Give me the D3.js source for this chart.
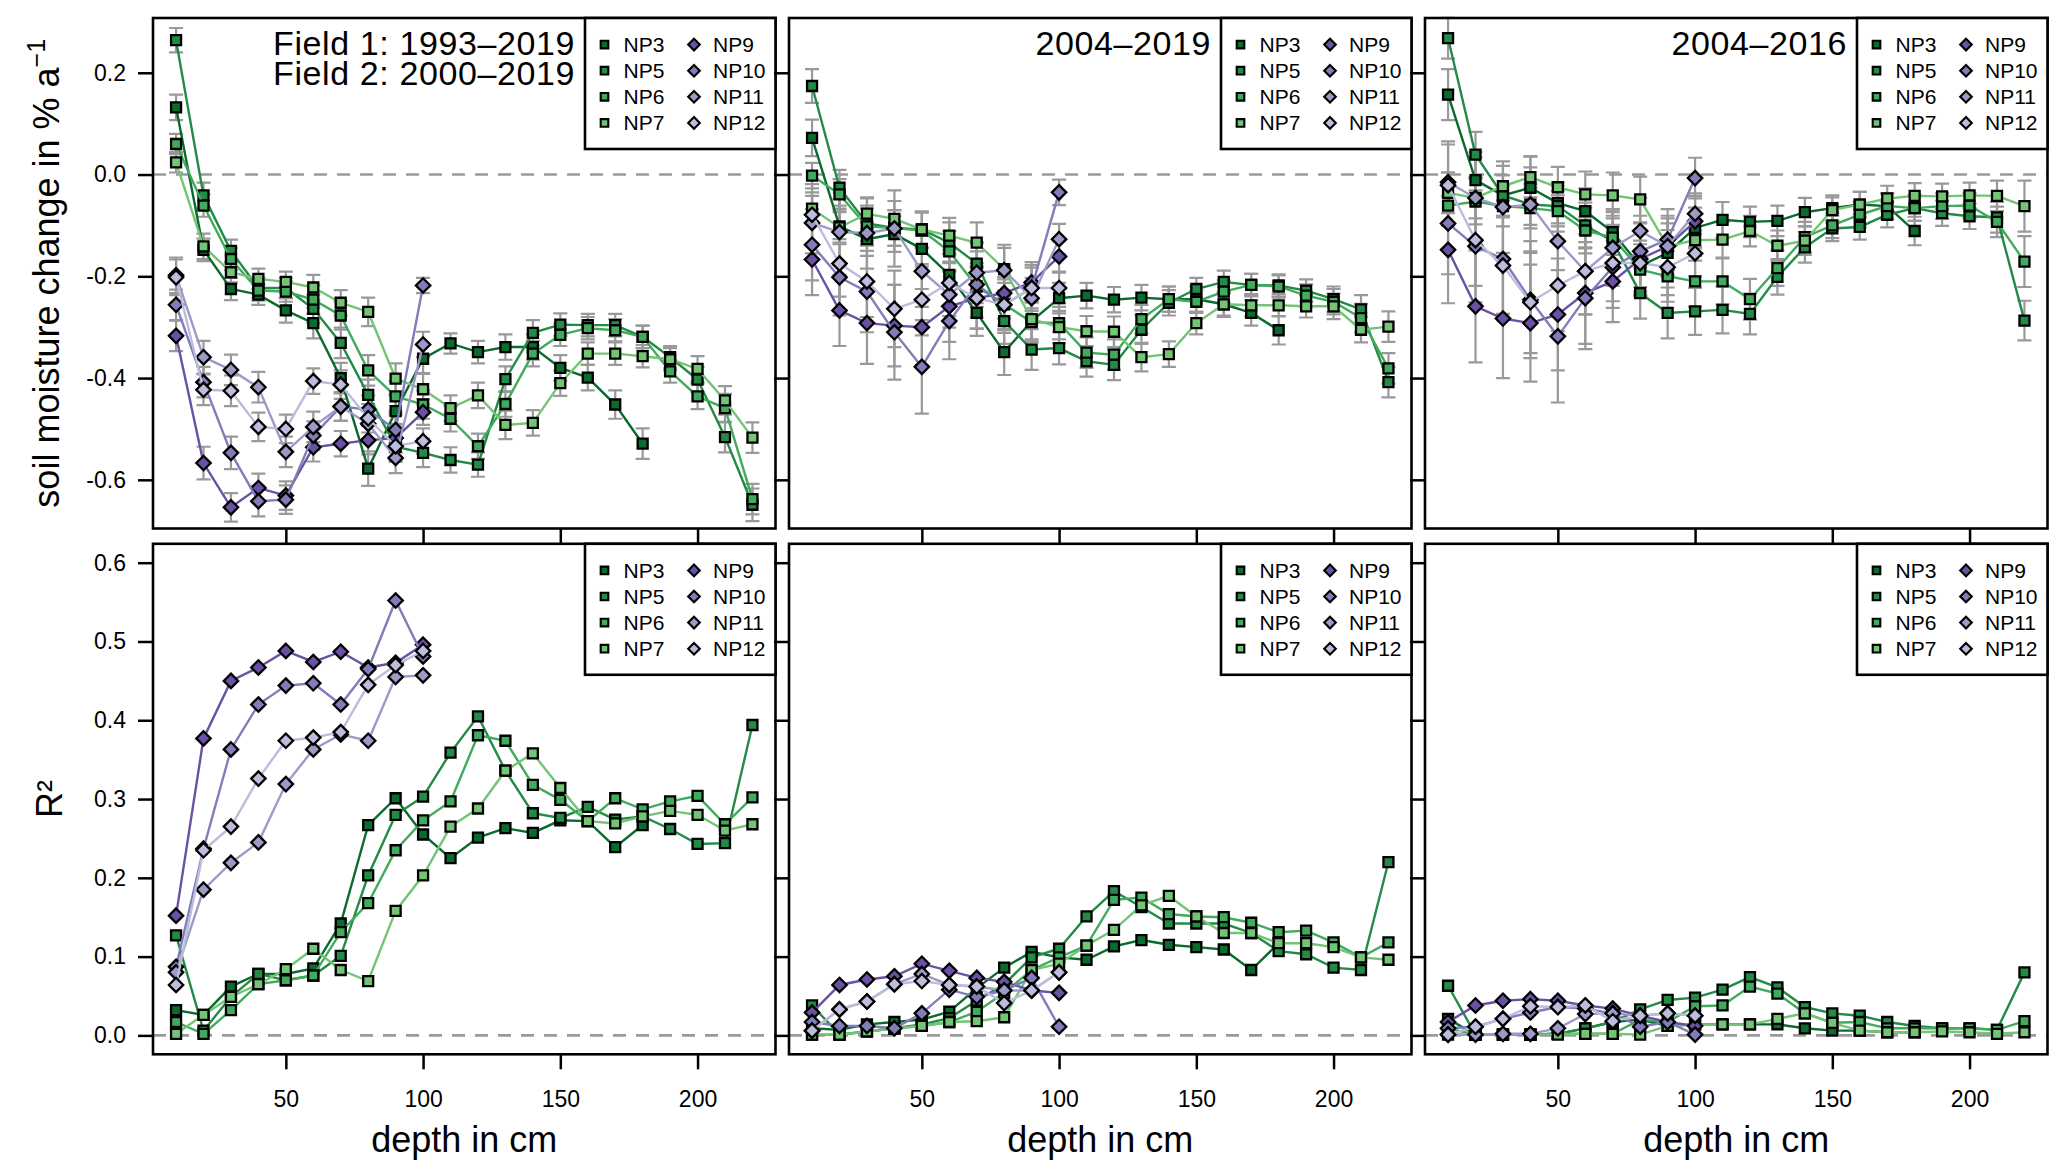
<!DOCTYPE html>
<html>
<head>
<meta charset="utf-8">
<script src="https://cdn.jsdelivr.net/npm/d3@7"></script>
<style>
  body { margin: 0; background: #fff; }
  svg { display: block; font-family: "Liberation Sans", Arial, Helvetica, sans-serif; }
</style>
</head>
<body>
<div id="chart"></div>
<script>
// Depths (cm) and profiles
const depths = [10, 20, 30, 40, 50, 60, 70, 80, 90, 100, 110, 120, 130, 140, 150, 160, 170, 180, 190, 200, 210, 220];
const series = ["NP3", "NP5", "NP6", "NP7", "NP9", "NP10", "NP11", "NP12"];
const seriesColors = ["#0b6a2e", "#238b45", "#41ab5d", "#74c476", "#6a51a3", "#807dba", "#9e9ac8", "#bcbddc"];
const seriesShape = ["square", "square", "square", "square", "diamond", "diamond", "diamond", "diamond"];

const periodTitles = [["Field 1: 1993\u20132019", "Field 2: 2000\u20132019"], ["2004\u20132019"], ["2004\u20132016"]];
const trendTicks = [-0.6, -0.4, -0.2, 0, 0.2];
const r2Ticks = [0, 0.1, 0.2, 0.3, 0.4, 0.5, 0.6];
const depthTicks = [50, 100, 150, 200];

// soil moisture trend, % per year (rows: NP3, NP5, NP6, NP7, NP9, NP10, NP11, NP12)
const trendLong = [
  [0.132, -0.148, -0.225, -0.236, -0.267, -0.292, -0.400, -0.578, -0.465, -0.362, -0.332, -0.349, -0.339, -0.339, -0.380, -0.399, -0.452, -0.529],
  [0.264, -0.041, -0.150, -0.223, -0.223, -0.264, -0.331, -0.433, -0.535, -0.547, -0.561, -0.570, -0.402, -0.311, -0.295, -0.296, -0.296, -0.319, -0.359, -0.403, -0.516, -0.649],
  [0.060, -0.061, -0.166, -0.228, -0.230, -0.246, -0.277, -0.385, -0.436, -0.452, -0.480, -0.534, -0.451, -0.352, -0.315, -0.302, -0.306, -0.319, -0.387, -0.436, -0.459, -0.638],
  [0.024, -0.141, -0.192, -0.205, -0.211, -0.222, -0.252, -0.270, -0.401, -0.422, -0.459, -0.434, -0.492, -0.488, -0.410, -0.352, -0.352, -0.357, -0.363, -0.382, -0.444, -0.517],
  [-0.317, -0.567, -0.654, -0.616, -0.631, -0.536, -0.529, -0.522, -0.518, -0.467],
  [-0.256, -0.408, -0.547, -0.642, -0.639, -0.513, -0.456, -0.462, -0.502, -0.218],
  [-0.198, -0.359, -0.384, -0.418, -0.545, -0.496, -0.456, -0.490, -0.557, -0.334],
  [-0.202, -0.423, -0.425, -0.496, -0.500, -0.406, -0.413, -0.479, -0.534, -0.524]
];
const trendLongErr = [
  [0.025, 0.022, 0.022, 0.020, 0.024, 0.030, 0.030, 0.034, 0.030, 0.028, 0.020, 0.022, 0.025, 0.025, 0.025, 0.025, 0.028, 0.030],
  [0.024, 0.025, 0.022, 0.020, 0.020, 0.028, 0.030, 0.030, 0.030, 0.028, 0.025, 0.024, 0.025, 0.025, 0.022, 0.022, 0.022, 0.022, 0.022, 0.025, 0.030, 0.032],
  [0.020, 0.022, 0.022, 0.020, 0.020, 0.028, 0.028, 0.030, 0.030, 0.028, 0.025, 0.025, 0.025, 0.025, 0.022, 0.022, 0.022, 0.022, 0.022, 0.025, 0.028, 0.030],
  [0.020, 0.025, 0.020, 0.020, 0.020, 0.025, 0.025, 0.028, 0.030, 0.030, 0.025, 0.025, 0.028, 0.025, 0.025, 0.022, 0.022, 0.022, 0.022, 0.025, 0.028, 0.030],
  [0.030, 0.032, 0.028, 0.028, 0.028, 0.028, 0.025, 0.028, 0.028, 0.025],
  [0.030, 0.030, 0.032, 0.030, 0.028, 0.028, 0.028, 0.028, 0.030, 0.015],
  [0.035, 0.032, 0.030, 0.030, 0.030, 0.030, 0.028, 0.030, 0.030, 0.025],
  [0.035, 0.030, 0.030, 0.028, 0.028, 0.025, 0.028, 0.028, 0.028, 0.025]
];

const trend0419 = [
  [0.072, -0.102, -0.127, -0.117, -0.146, -0.197, -0.272, -0.349, -0.288, -0.243, -0.238, -0.246, -0.242, -0.245, -0.245, -0.255, -0.272, -0.306],
  [0.174, -0.026, -0.096, -0.105, -0.108, -0.134, -0.175, -0.288, -0.344, -0.341, -0.367, -0.374, -0.305, -0.252, -0.225, -0.211, -0.217, -0.218, -0.228, -0.245, -0.265, -0.408],
  [-0.002, -0.039, -0.102, -0.105, -0.110, -0.151, -0.220, -0.255, -0.290, -0.292, -0.350, -0.354, -0.284, -0.245, -0.250, -0.230, -0.217, -0.220, -0.238, -0.250, -0.282, -0.381],
  [-0.067, -0.104, -0.077, -0.087, -0.108, -0.120, -0.134, -0.186, -0.284, -0.300, -0.308, -0.309, -0.359, -0.353, -0.292, -0.255, -0.257, -0.257, -0.259, -0.259, -0.305, -0.299],
  [-0.167, -0.267, -0.292, -0.297, -0.300, -0.259, -0.243, -0.233, -0.212, -0.161],
  [-0.138, -0.202, -0.230, -0.310, -0.378, -0.288, -0.216, -0.256, -0.223, -0.035],
  [-0.095, -0.113, -0.115, -0.106, -0.190, -0.236, -0.193, -0.188, -0.243, -0.127],
  [-0.079, -0.175, -0.210, -0.264, -0.246, -0.213, -0.243, -0.256, -0.223, -0.223]
];
const trend0419Err = [
  [0.036, 0.035, 0.033, 0.035, 0.035, 0.040, 0.045, 0.045, 0.040, 0.030, 0.025, 0.025, 0.025, 0.025, 0.025, 0.025, 0.025, 0.028],
  [0.033, 0.035, 0.035, 0.035, 0.035, 0.040, 0.040, 0.045, 0.040, 0.032, 0.030, 0.030, 0.028, 0.025, 0.022, 0.022, 0.022, 0.022, 0.022, 0.025, 0.028, 0.030],
  [0.025, 0.030, 0.035, 0.035, 0.035, 0.040, 0.040, 0.042, 0.040, 0.032, 0.030, 0.030, 0.028, 0.025, 0.022, 0.022, 0.022, 0.022, 0.022, 0.025, 0.028, 0.030],
  [0.025, 0.030, 0.030, 0.035, 0.035, 0.035, 0.040, 0.042, 0.040, 0.032, 0.030, 0.030, 0.028, 0.025, 0.022, 0.022, 0.022, 0.022, 0.022, 0.025, 0.025, 0.030],
  [0.070, 0.070, 0.080, 0.080, 0.075, 0.070, 0.060, 0.050, 0.040, 0.030],
  [0.070, 0.075, 0.080, 0.093, 0.092, 0.075, 0.065, 0.055, 0.045, 0.025],
  [0.060, 0.065, 0.070, 0.075, 0.070, 0.065, 0.060, 0.050, 0.040, 0.030],
  [0.060, 0.065, 0.070, 0.075, 0.070, 0.065, 0.060, 0.050, 0.040, 0.030]
];

const trend0416 = [
  [0.157, -0.011, -0.041, -0.026, -0.056, -0.072, -0.113, -0.180, -0.154, -0.105, -0.089, -0.093, -0.091, -0.074, -0.066, -0.059, -0.062, -0.111],
  [0.268, 0.039, -0.041, -0.059, -0.062, -0.100, -0.131, -0.233, -0.272, -0.269, -0.266, -0.274, -0.201, -0.143, -0.106, -0.103, -0.079, -0.066, -0.076, -0.082, -0.084, -0.287],
  [-0.061, -0.053, -0.062, -0.066, -0.072, -0.110, -0.124, -0.187, -0.200, -0.210, -0.210, -0.245, -0.184, -0.123, -0.100, -0.079, -0.062, -0.066, -0.062, -0.061, -0.093, -0.171],
  [-0.036, -0.046, -0.023, -0.005, -0.025, -0.039, -0.041, -0.049, -0.141, -0.129, -0.128, -0.111, -0.140, -0.130, -0.070, -0.059, -0.047, -0.042, -0.043, -0.041, -0.042, -0.062],
  [-0.148, -0.259, -0.283, -0.292, -0.275, -0.233, -0.210, -0.166, -0.141, -0.092],
  [-0.096, -0.141, -0.166, -0.246, -0.318, -0.243, -0.182, -0.151, -0.128, -0.007],
  [-0.015, -0.046, -0.064, -0.059, -0.131, -0.190, -0.144, -0.111, -0.141, -0.077],
  [-0.021, -0.129, -0.179, -0.251, -0.218, -0.190, -0.174, -0.174, -0.182, -0.155]
];
const trend0416Err = [
  [0.050, 0.045, 0.040, 0.040, 0.040, 0.045, 0.045, 0.050, 0.045, 0.040, 0.035, 0.030, 0.030, 0.028, 0.025, 0.025, 0.025, 0.028],
  [0.040, 0.045, 0.040, 0.040, 0.040, 0.045, 0.050, 0.050, 0.050, 0.046, 0.046, 0.040, 0.035, 0.030, 0.025, 0.025, 0.025, 0.025, 0.025, 0.025, 0.030, 0.039],
  [0.040, 0.045, 0.040, 0.040, 0.040, 0.045, 0.050, 0.050, 0.050, 0.050, 0.045, 0.040, 0.035, 0.030, 0.025, 0.025, 0.025, 0.025, 0.025, 0.025, 0.030, 0.050],
  [0.040, 0.040, 0.040, 0.040, 0.040, 0.045, 0.045, 0.045, 0.045, 0.040, 0.035, 0.030, 0.030, 0.028, 0.025, 0.025, 0.025, 0.025, 0.025, 0.025, 0.030, 0.050],
  [0.105, 0.110, 0.117, 0.115, 0.110, 0.100, 0.080, 0.070, 0.060, 0.050],
  [0.100, 0.110, 0.115, 0.115, 0.130, 0.100, 0.080, 0.070, 0.060, 0.040],
  [0.080, 0.090, 0.090, 0.095, 0.090, 0.085, 0.075, 0.065, 0.055, 0.040],
  [0.080, 0.090, 0.095, 0.100, 0.090, 0.085, 0.075, 0.065, 0.055, 0.045]
];

// coefficient of determination of the trends
const r2Long = [
  [0.032, 0.026, 0.062, 0.078, 0.078, 0.085, 0.142, 0.267, 0.301, 0.255, 0.225, 0.251, 0.263, 0.257, 0.273, 0.272, 0.239, 0.267],
  [0.127, 0.006, 0.049, 0.078, 0.070, 0.076, 0.101, 0.203, 0.280, 0.303, 0.359, 0.405, 0.336, 0.282, 0.276, 0.290, 0.274, 0.278, 0.262, 0.243, 0.244, 0.394],
  [0.017, 0.002, 0.032, 0.065, 0.070, 0.076, 0.131, 0.168, 0.235, 0.273, 0.297, 0.381, 0.374, 0.318, 0.299, 0.272, 0.301, 0.287, 0.297, 0.304, 0.268, 0.302],
  [0.002, 0.026, 0.049, 0.065, 0.084, 0.110, 0.083, 0.069, 0.158, 0.203, 0.265, 0.288, 0.336, 0.358, 0.314, 0.272, 0.269, 0.278, 0.285, 0.280, 0.260, 0.268],
  [0.152, 0.377, 0.450, 0.467, 0.488, 0.474, 0.487, 0.467, 0.473, 0.496],
  [0.087, 0.237, 0.363, 0.420, 0.444, 0.447, 0.420, 0.465, 0.552, 0.481],
  [0.080, 0.185, 0.219, 0.245, 0.319, 0.363, 0.382, 0.374, 0.455, 0.457],
  [0.064, 0.235, 0.265, 0.326, 0.374, 0.378, 0.385, 0.445, 0.470, 0.488]
];
const r20419 = [
  [0.009, 0.007, 0.014, 0.017, 0.020, 0.030, 0.060, 0.086, 0.106, 0.099, 0.096, 0.113, 0.121, 0.115, 0.112, 0.109, 0.083, 0.117],
  [0.038, 0.001, 0.005, 0.009, 0.014, 0.022, 0.044, 0.065, 0.099, 0.110, 0.151, 0.183, 0.163, 0.142, 0.142, 0.142, 0.130, 0.107, 0.103, 0.086, 0.083, 0.220],
  [0.001, 0.001, 0.005, 0.009, 0.012, 0.017, 0.030, 0.054, 0.083, 0.099, 0.114, 0.172, 0.175, 0.154, 0.151, 0.150, 0.143, 0.131, 0.133, 0.118, 0.099, 0.118],
  [0.001, 0.001, 0.005, 0.009, 0.012, 0.017, 0.018, 0.023, 0.083, 0.091, 0.114, 0.134, 0.165, 0.177, 0.151, 0.130, 0.130, 0.117, 0.117, 0.112, 0.099, 0.096],
  [0.029, 0.064, 0.071, 0.075, 0.091, 0.082, 0.073, 0.068, 0.057, 0.054],
  [0.017, 0.012, 0.012, 0.009, 0.028, 0.058, 0.049, 0.057, 0.073, 0.011],
  [0.006, 0.033, 0.043, 0.065, 0.078, 0.064, 0.062, 0.057, 0.057, 0.080],
  [0.006, 0.033, 0.043, 0.065, 0.069, 0.064, 0.062, 0.041, 0.057, 0.080]
];
const r20416 = [
  [0.021, 0.001, 0.001, 0.001, 0.002, 0.009, 0.017, 0.020, 0.012, 0.014, 0.014, 0.014, 0.014, 0.009, 0.006, 0.006, 0.004, 0.004],
  [0.063, 0.001, 0.001, 0.001, 0.002, 0.009, 0.017, 0.033, 0.045, 0.048, 0.058, 0.074, 0.061, 0.036, 0.028, 0.025, 0.017, 0.012, 0.009, 0.009, 0.007, 0.080],
  [0.009, 0.001, 0.001, 0.001, 0.002, 0.002, 0.002, 0.020, 0.017, 0.037, 0.038, 0.062, 0.053, 0.028, 0.016, 0.017, 0.009, 0.009, 0.009, 0.009, 0.007, 0.018],
  [0.001, 0.001, 0.001, 0.001, 0.001, 0.002, 0.002, 0.001, 0.012, 0.014, 0.014, 0.014, 0.021, 0.028, 0.016, 0.006, 0.004, 0.004, 0.005, 0.004, 0.002, 0.004],
  [0.017, 0.038, 0.044, 0.046, 0.044, 0.038, 0.034, 0.025, 0.017, 0.012],
  [0.009, 0.011, 0.021, 0.029, 0.036, 0.034, 0.028, 0.011, 0.017, 0.001],
  [0.001, 0.001, 0.002, 0.002, 0.009, 0.027, 0.028, 0.025, 0.028, 0.025],
  [0.001, 0.011, 0.021, 0.037, 0.036, 0.038, 0.018, 0.025, 0.028, 0.025]
];

function draw() {

  // Dimensions
  const dimensions = {
    width: 2067,
    height: 1176,
    left: 153,
    top: 18,
    panelWidth: 622.5,
    panelHeight: 510.5,
    colStep: 636,
    rowStep: 525.8
  };

  // R style axis range: data limits widened by 4 % on each side
  const pad = (lo, hi) => [lo - 0.04 * (hi - lo), hi + 0.04 * (hi - lo)];

  const panels = [
    { row: 0, col: 0, values: trendLong, errors: trendLongErr, title: periodTitles[0] },
    { row: 0, col: 1, values: trend0419, errors: trend0419Err, title: periodTitles[1] },
    { row: 0, col: 2, values: trend0416, errors: trend0416Err, title: periodTitles[2] },
    { row: 1, col: 0, values: r2Long },
    { row: 1, col: 1, values: r20419 },
    { row: 1, col: 2, values: r20416 }
  ];

  const svg = d3.select("#chart")
    .append("svg")
    .attr("width", dimensions.width)
    .attr("height", dimensions.height)
    .attr("viewBox", `0 0 ${dimensions.width} ${dimensions.height}`);

  svg.append("rect")
    .attr("width", dimensions.width)
    .attr("height", dimensions.height)
    .attr("fill", "#fff");

  const diamond = (r) => `M0,${-r}L${r},0L0,${r}L${-r},0Z`;
  const square = (s) => `M${-s},${-s}H${s}V${s}H${-s}Z`;

  panels.forEach(p => {
    const x0 = dimensions.left + p.col * dimensions.colStep;
    const y0 = dimensions.top + p.row * dimensions.rowStep;
    const w = dimensions.panelWidth;
    const h = dimensions.panelHeight;

    const xScale = d3.scaleLinear()
      .domain(pad(10, 220))
      .range([0, w]);

    const yScale = d3.scaleLinear()
      .domain(p.row === 0 ? pad(-0.6585, 0.2705) : pad(0, 0.6))
      .range([h, 0]);

    const ctr = svg.append("g")
      .attr("transform", `translate(${x0}, ${y0})`);

    // zero line
    ctr.append("line")
      .attr("x1", 0)
      .attr("x2", w)
      .attr("y1", yScale(0))
      .attr("y2", yScale(0))
      .attr("stroke", "#9a9a9a")
      .attr("stroke-width", 2.6)
      .attr("stroke-dasharray", "13,10");

    // error bars
    if (p.errors) {
      const bars = ctr.append("g")
        .attr("stroke", "#999")
        .attr("stroke-width", 2.2)
        .attr("fill", "none");
      p.values.forEach((vals, s) => {
        vals.forEach((v, i) => {
          const cx = xScale(depths[i]);
          const lo = yScale(v - p.errors[s][i]);
          const hi = yScale(v + p.errors[s][i]);
          bars.append("path")
            .attr("d", `M${cx},${lo}V${hi}M${cx - 7},${lo}H${cx + 7}M${cx - 7},${hi}H${cx + 7}`);
        });
      });
    }

    // series: line then points
    const lineGenerator = d3.line()
      .x((d, i) => xScale(depths[i]))
      .y(d => yScale(d));

    p.values.forEach((vals, s) => {
      ctr.append("path")
        .datum(vals)
        .attr("d", lineGenerator)
        .attr("fill", "none")
        .attr("stroke", seriesColors[s])
        .attr("stroke-width", 2.4);

      ctr.append("g")
        .selectAll("path")
        .data(vals)
        .join("path")
        .attr("transform", (d, i) => `translate(${xScale(depths[i])}, ${yScale(d)})`)
        .attr("d", seriesShape[s] === "square" ? square(5) : diamond(7.2))
        .attr("fill", seriesColors[s])
        .attr("stroke", "#000")
        .attr("stroke-width", 2.3);
    });

    // axes
    const xAxis = d3.axisBottom(xScale)
      .tickValues(depthTicks)
      .tickSize(15)
      .tickPadding(21)
      .tickFormat(p.row === 1 ? d3.format("d") : () => "");

    const yAxis = d3.axisLeft(yScale)
      .tickValues(p.row === 0 ? trendTicks : r2Ticks)
      .tickSize(15)
      .tickPadding(12)
      .tickFormat(p.col === 0 ? (d => d.toFixed(1)) : () => "");

    const xAxisGroup = ctr.append("g")
      .attr("transform", `translate(0, ${h})`)
      .call(xAxis);
    const yAxisGroup = ctr.append("g")
      .call(yAxis);

    [xAxisGroup, yAxisGroup].forEach(g => {
      g.select(".domain").remove();
      g.selectAll(".tick line").attr("stroke", "#000").attr("stroke-width", 2.5);
      g.selectAll(".tick text")
        .attr("fill", "#000")
        .style("font-size", "23px")
        .style("font-family", "'Liberation Sans', Arial, sans-serif");
    });

    // frame
    ctr.append("rect")
      .attr("width", w)
      .attr("height", h)
      .attr("fill", "none")
      .attr("stroke", "#000")
      .attr("stroke-width", 2.6);

    // legend
    const legend = ctr.append("g")
      .attr("transform", `translate(${w - 190.5}, 0)`);
    legend.append("rect")
      .attr("width", 190.5)
      .attr("height", 131)
      .attr("fill", "#fff")
      .attr("stroke", "#000")
      .attr("stroke-width", 2.6);

    series.forEach((name, s) => {
      const col = s < 4 ? 0 : 1;
      const row = s % 4;
      const item = legend.append("g")
        .attr("transform", `translate(${19.5 + col * 89.5}, ${26.6 + row * 26.1})`);
      item.append("path")
        .attr("d", seriesShape[s] === "square" ? square(3.8) : diamond(5.8))
        .attr("fill", seriesColors[s])
        .attr("stroke", "#000")
        .attr("stroke-width", 2.1);
      item.append("text")
        .attr("x", 19)
        .attr("dy", "0.36em")
        .style("font-size", "21px")
        .text(name);
    });

    // period label (one line per period)
    if (p.title) {
      p.title.forEach((t, k) => {
        ctr.append("text")
          .attr("x", w - 200.5)
          .attr("y", 36.5 + k * 30)
          .attr("text-anchor", "end")
          .style("font-size", "34px")
          .style("letter-spacing", "0.6px")
          .text(t);
      });
    }

    // axis titles
    if (p.row === 1) {
      ctr.append("text")
        .attr("x", w / 2)
        .attr("y", h + 85)
        .attr("dy", "0.35em")
        .attr("text-anchor", "middle")
        .style("font-size", "36px")
        .text("depth in cm");
    }
  });

  // y titles
  const yTitle = svg.append("text")
    .attr("transform", `translate(46, ${dimensions.top + dimensions.panelHeight / 2}) rotate(-90)`)
    .attr("text-anchor", "middle")
    .attr("dy", "0.35em")
    .style("font-size", "36px");
  yTitle.append("tspan").text("soil moisture change in % a");
  yTitle.append("tspan")
    .attr("dy", "-0.55em")
    .style("font-size", "25px")
    .text("\u22121");

  svg.append("text")
    .attr("transform", `translate(49, ${dimensions.top + dimensions.rowStep + dimensions.panelHeight / 2}) rotate(-90)`)
    .attr("text-anchor", "middle")
    .attr("dy", "0.35em")
    .style("font-size", "36px")
    .text("R\u00b2");
}

draw();
</script>
</body>
</html>
